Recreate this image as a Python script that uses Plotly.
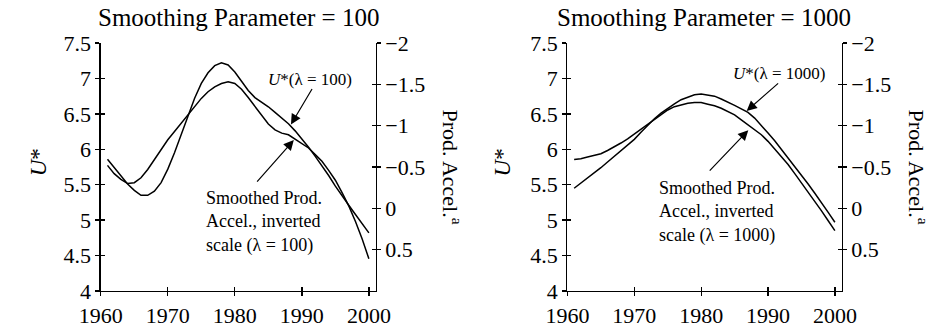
import plotly.graph_objects as go

years = list(range(1961, 2001))

# Smoothing parameter = 100
ustar_100 = [5.86, 5.74, 5.62, 5.51, 5.42, 5.35, 5.35, 5.41, 5.53, 5.72,
             5.95, 6.20, 6.47, 6.72, 6.93, 7.08, 7.18, 7.22, 7.19, 7.09,
             6.96, 6.83, 6.73, 6.67, 6.60, 6.52, 6.44, 6.36, 6.26, 6.15,
             6.03, 5.90, 5.77, 5.63, 5.48, 5.34, 5.21, 5.08, 4.95, 4.82]
accel_100 = [-0.52, -0.42, -0.35, -0.30, -0.31, -0.37, -0.47, -0.59, -0.71, -0.83,
             -0.93, -1.03, -1.14, -1.24, -1.33, -1.41, -1.47, -1.51, -1.53, -1.51,
             -1.44, -1.34, -1.23, -1.12, -1.02, -0.95, -0.91, -0.89, -0.84, -0.79,
             -0.73, -0.65, -0.57, -0.46, -0.34, -0.19, -0.03, 0.16, 0.37, 0.61]

# Smoothing parameter = 1000
ustar_1000 = [5.45, 5.52, 5.59, 5.66, 5.74, 5.82, 5.90, 5.98, 6.06, 6.14,
              6.24, 6.34, 6.43, 6.51, 6.58, 6.64, 6.70, 6.74, 6.77, 6.78,
              6.77, 6.75, 6.71, 6.67, 6.62, 6.57, 6.52, 6.44, 6.34, 6.23,
              6.12, 6.00, 5.88, 5.76, 5.64, 5.51, 5.38, 5.25, 5.11, 4.97]
accel_1000 = [-0.59, -0.60, -0.62, -0.64, -0.66, -0.70, -0.74, -0.79, -0.84, -0.90,
              -0.96, -1.02, -1.08, -1.14, -1.19, -1.23, -1.25, -1.27, -1.28, -1.28,
              -1.26, -1.24, -1.21, -1.17, -1.13, -1.07, -1.01, -0.95, -0.89, -0.81,
              -0.72, -0.63, -0.53, -0.42, -0.31, -0.20, -0.09, 0.03, 0.15, 0.27]

x_ticks = [1960, 1970, 1980, 1990, 2000]
u_ticks = [4, 4.5, 5, 5.5, 6, 6.5, 7, 7.5]
u_ticktext = ["4", "4.5", "5", "5.5", "6", "6.5", "7", "7.5"]
a_ticks = [-2, -1.5, -1, -0.5, 0, 0.5]
a_ticktext = ["\u22122", "\u22121.5", "\u22121", "\u22120.5", "0", "0.5"]

FONT = "Liberation Serif"
W, H = 944, 328
T, B = 43, 35
PH = H - T - B

def px(x):
    return x / W

def py(y):
    return (H - B - y) / PH

line_style = dict(color="black", width=1.5)
fig = go.Figure()

# panel 1
fig.add_trace(go.Scatter(x=years, y=ustar_100, mode="lines", line=line_style,
                         xaxis="x", yaxis="y", showlegend=False))
fig.add_trace(go.Scatter(x=years, y=accel_100, mode="lines", line=line_style,
                         xaxis="x", yaxis="y2", showlegend=False))
# panel 2
fig.add_trace(go.Scatter(x=years, y=ustar_1000, mode="lines", line=line_style,
                         xaxis="x2", yaxis="y5", showlegend=False))
fig.add_trace(go.Scatter(x=years, y=accel_1000, mode="lines", line=line_style,
                         xaxis="x2", yaxis="y6", showlegend=False))
# empty traces to realise overlay axes (inner half of crossing ticks)
for xa, ya in [("x3", "y3"), ("x3", "y4"), ("x4", "y7"), ("x4", "y8")]:
    fig.add_trace(go.Scatter(x=[], y=[], xaxis=xa, yaxis=ya, showlegend=False,
                             hoverinfo="skip"))

dom1 = [px(82), px(368)]
dom2 = [px(567.7), px(853)]
xr = [1960, 2001]
axc = dict(linecolor="black", linewidth=1.3, tickcolor="black", tickwidth=1.3,
           ticklen=4, showgrid=False, zeroline=False, fixedrange=True)
tickfont = dict(family=FONT, size=22, color="black")

def xmain(dom, anchor):
    return dict(domain=dom, range=xr, anchor=anchor, tickvals=x_ticks, ticks="outside",
                showline=True, tickfont=tickfont, **axc)

def xin(over, anchor):
    return dict(overlaying=over, range=xr, anchor=anchor, tickvals=x_ticks, ticks="inside",
                showline=False, showticklabels=False, **axc)

def yleft(anchor, over=None, inside=False):
    d = dict(range=[4, 7.5], anchor=anchor, tickvals=u_ticks, ticktext=u_ticktext,
             ticks="inside" if inside else "outside", showline=not inside,
             showticklabels=not inside, tickfont=tickfont, side="left", **axc)
    d["domain"] = [0, 1]
    if over:
        d["overlaying"] = over
        d.pop("domain")
    return d

def yright(anchor, over, inside=False):
    return dict(range=[1, -2], anchor=anchor, overlaying=over, side="right",
                tickvals=a_ticks, ticktext=a_ticktext,
                ticks="inside" if inside else "outside", showline=not inside,
                showticklabels=not inside, tickfont=tickfont, **axc)

annots = []
def txt(x, y, s, size, xanchor="center", yanchor="middle", angle=0, align="center"):
    annots.append(dict(x=x, y=y, xref="paper", yref="paper", text=s, showarrow=False,
                       xanchor=xanchor, yanchor=yanchor, textangle=angle, align=align,
                       font=dict(family=FONT, size=size, color="black")))

def arrow(x, y, ax, ay, xref, yref):
    annots.append(dict(x=x, y=y, xref=xref, yref=yref, ax=ax, ay=ay, text="",
                       showarrow=True, arrowhead=2, arrowsize=1.7, arrowwidth=1.2,
                       arrowcolor="black"))

txt(px(225), py(17), "Smoothing Parameter = 100", 25)
txt(px(710), py(17), "Smoothing Parameter = 1000", 25)
txt(px(17), py(163), "<i>U</i>*", 23, angle=-90)
txt(px(500), py(163), "<i>U</i>*", 23, angle=-90)
txt(px(448), py(168), "Prod. Accel.<sup>a</sup>", 22, angle=90)
txt(px(933), py(168), "Prod. Accel.<sup>a</sup>", 22, angle=90)

txt(px(299.5), py(80), "<i>U</i>*(λ = 100)", 17)
txt(px(787.5), py(74), "<i>U</i>*(λ = 1000)", 17)
txt(px(189), py(187), "Smoothed Prod.<br>Accel., inverted<br>scale (λ = 100)", 18,
    xanchor="left", yanchor="top", align="left")
txt(px(661), py(177), "Smoothed Prod.<br>Accel., inverted<br>scale (λ = 1000)", 18,
    xanchor="left", yanchor="top", align="left")

arrow(1988.37, 6.35, 22, -37, "x", "y")
arrow(1988.8, 6.13, -38, 43, "x", "y")
arrow(1986.8, 6.54, 33, -29, "x2", "y5")
arrow(1987.05, 6.27, -40, 42, "x2", "y5")

fig.update_layout(
    width=W, height=H,
    margin=dict(l=0, r=0, t=T, b=B),
    paper_bgcolor="white", plot_bgcolor="white",
    showlegend=False,
    xaxis=xmain(dom1, "y"),
    xaxis3=xin("x", "y"),
    xaxis2=xmain(dom2, "y5"),
    xaxis4=xin("x2", "y5"),
    yaxis=yleft("x"),
    yaxis3=yleft("x", over="y", inside=True),
    yaxis2=yright("x", "y"),
    yaxis4=yright("x", "y", inside=True),
    yaxis5=yleft("x2"),
    yaxis7=yleft("x2", over="y5", inside=True),
    yaxis6=yright("x2", "y5"),
    yaxis8=yright("x2", "y5", inside=True),
    annotations=annots,
)

fig.write_html("out.html", config={"displayModeBar": False, "staticPlot": True},
               post_script="document.body.style.margin='0';document.body.style.padding='0';")
